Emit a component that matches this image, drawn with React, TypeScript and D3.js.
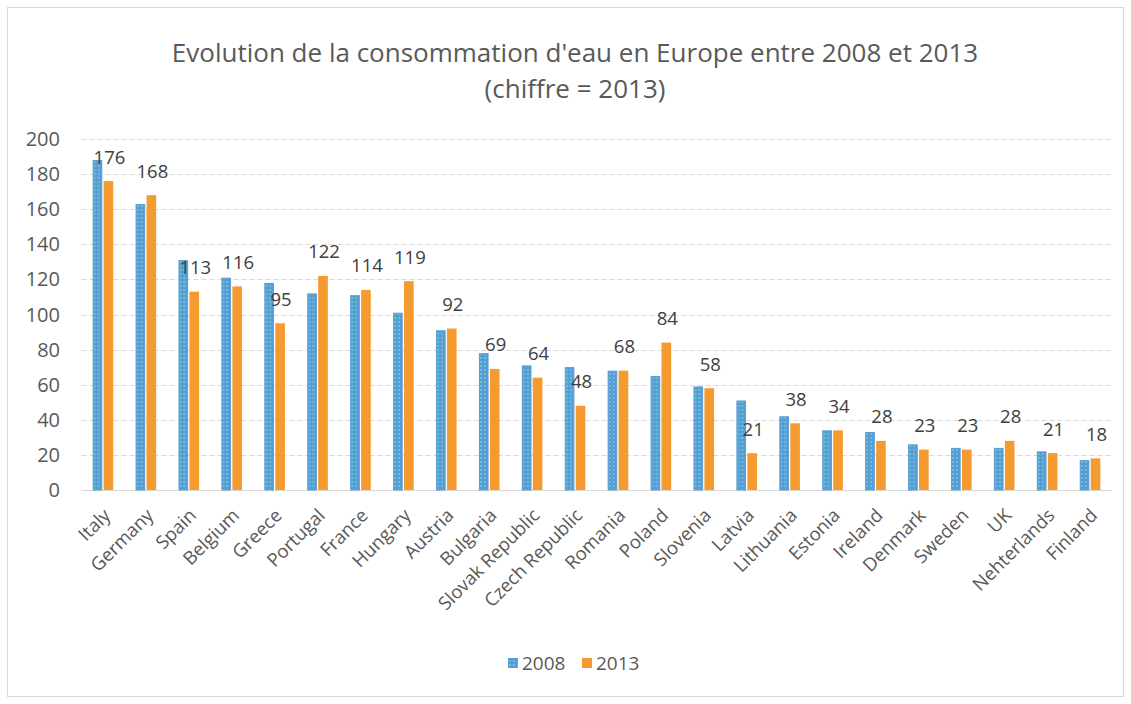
import { useEffect, useRef } from 'react';
import * as d3 from 'd3';

const countries = ['Italy', 'Germany', 'Spain', 'Belgium', 'Greece', 'Portugal', 'France', 'Hungary', 'Austria', 'Bulgaria', 'Slovak Republic', 'Czech Republic', 'Romania', 'Poland', 'Slovenia', 'Latvia', 'Lithuania', 'Estonia', 'Ireland', 'Denmark', 'Sweden', 'UK', 'Nehterlands', 'Finland'];
const values2008 = [188, 163, 131, 121, 118, 112, 111, 101, 91, 78, 71, 70, 68, 65, 59, 51, 42, 34, 33, 26, 24, 24, 22, 17];
const values2013 = [176, 168, 113, 116, 95, 122, 114, 119, 92, 69, 64, 48, 68, 84, 58, 21, 38, 34, 28, 23, 23, 28, 21, 18];
const series = ['2008', '2013'];
const yTicks = [0, 20, 40, 60, 80, 100, 120, 140, 160, 180, 200];

const W = 1131;
const H = 704;
const FONT = '"Open Sans", "Liberation Sans", sans-serif';

const App = () => {
  const svgRef = useRef<SVGSVGElement>(null);

  useEffect(() => {
    if (!svgRef.current) return;
    const svg = d3.select(svgRef.current);
    svg.selectAll('*').remove();

    const margin = { left: 81.5, right: 19.5, top: 139, bottom: 214 };

    const x = d3.scaleBand<string>()
      .domain(countries)
      .range([margin.left, W - margin.right])
      .paddingInner(0.52)
      .paddingOuter(0.26);
    const xs = d3.scaleBand<string>().domain(series).range([0, x.bandwidth()]).paddingInner(0.12);
    const y = d3.scaleLinear().domain([0, 200]).range([H - margin.bottom, margin.top]);

    // motif des barres 2008
    const defs = svg.append('defs');
    const pat = defs.append('pattern')
      .attr('id', 'p2008')
      .attr('patternUnits', 'userSpaceOnUse')
      .attr('width', 4)
      .attr('height', 4);
    pat.append('rect').attr('width', 4).attr('height', 4).attr('fill', '#5b9bd5');
    pat.append('rect').attr('x', 1).attr('y', 1).attr('width', 2).attr('height', 2).attr('fill', '#5ec6d2');

    // cadre
    svg.append('rect')
      .attr('x', 7.5).attr('y', 7.5)
      .attr('width', W - 15).attr('height', H - 15)
      .attr('fill', '#fff')
      .attr('stroke', '#d9d9d9');

    // titre
    svg.append('text')
      .attr('x', 575).attr('y', 62)
      .attr('text-anchor', 'middle')
      .style('font-family', FONT).style('font-size', '26px').style('fill', '#595959')
      .text("Evolution de la consommation d'eau en Europe entre 2008 et 2013");
    svg.append('text')
      .attr('x', 575).attr('y', 98)
      .attr('text-anchor', 'middle')
      .style('font-family', FONT).style('font-size', '26px').style('fill', '#595959')
      .text('(chiffre = 2013)');

    // grille
    svg.append('g')
      .selectAll('line')
      .data(yTicks.filter(t => t > 0))
      .enter()
      .append('line')
      .attr('x1', margin.left).attr('x2', W - margin.right)
      .attr('y1', d => Math.round(y(d)) + 0.5).attr('y2', d => Math.round(y(d)) + 0.5)
      .attr('stroke', '#d9d9d9')
      .attr('stroke-dasharray', '5,3');

    svg.append('line')
      .attr('x1', margin.left).attr('x2', W - margin.right)
      .attr('y1', Math.round(y(0)) + 0.5).attr('y2', Math.round(y(0)) + 0.5)
      .attr('stroke', '#d9d9d9');

    // graduations
    svg.append('g')
      .selectAll('text')
      .data(yTicks)
      .enter()
      .append('text')
      .attr('x', 60).attr('y', d => y(d))
      .attr('dy', '0.35em')
      .attr('text-anchor', 'end')
      .style('font-family', FONT).style('font-size', '20px').style('fill', '#595959')
      .text(d => d);

    // barres
    const groups = svg.append('g')
      .selectAll('g')
      .data(countries)
      .enter()
      .append('g')
      .attr('transform', d => `translate(${x(d)},0)`);

    groups.append('rect')
      .attr('x', xs('2008')! + 0.5)
      .attr('width', xs.bandwidth() - 1)
      .attr('y', (_, i) => y(values2008[i]) + 0.5)
      .attr('height', (_, i) => y(0) - y(values2008[i]) - 0.5)
      .attr('fill', 'url(#p2008)')
      .attr('stroke', '#5b9bd5')
      .attr('stroke-width', 1);

    groups.append('rect')
      .attr('x', xs('2013')!)
      .attr('width', xs.bandwidth())
      .attr('y', (_, i) => y(values2013[i]))
      .attr('height', (_, i) => y(0) - y(values2013[i]))
      .attr('fill', '#f59a2f');

    // étiquettes 2013
    groups.append('text')
      .attr('x', xs('2013')! + xs.bandwidth() / 2 + 1)
      .attr('y', (_, i) => y(values2013[i]) - 24)
      .attr('text-anchor', 'middle')
      .attr('dy', '0.35em')
      .style('font-family', FONT).style('font-size', '18.5px').style('fill', '#404040')
      .text((_, i) => values2013[i]);

    // pays
    svg.append('g')
      .selectAll('text')
      .data(countries)
      .enter()
      .append('text')
      .attr('transform', d => `translate(${x(d)! + x.bandwidth() / 2 + 4},${y(0) + 22}) rotate(-45)`)
      .attr('text-anchor', 'end')
      .attr('dy', '0.35em')
      .style('font-family', FONT).style('font-size', '18.5px').style('fill', '#595959')
      .text(d => d);

    // légende
    const legend = svg.append('g').attr('transform', 'translate(508,663)');
    const items = [
      { label: series[0], fill: 'url(#p2008)', x: 0 },
      { label: series[1], fill: '#f59a2f', x: 74 },
    ];
    items.forEach(it => {
      legend.append('rect')
        .attr('x', it.x).attr('y', -5).attr('width', 10).attr('height', 10)
        .attr('fill', it.fill);
      legend.append('text')
        .attr('x', it.x + 14).attr('y', 0)
        .attr('dy', '0.35em')
        .style('font-family', FONT).style('font-size', '19px').style('fill', '#595959')
        .text(it.label);
    });
  }, []);

  return (
    <div style={{ position: 'absolute', left: 0, top: 0, width: W, height: H, background: '#fff' }}>
      <svg ref={svgRef} width={W} height={H}></svg>
    </div>
  );
};

export default App;
